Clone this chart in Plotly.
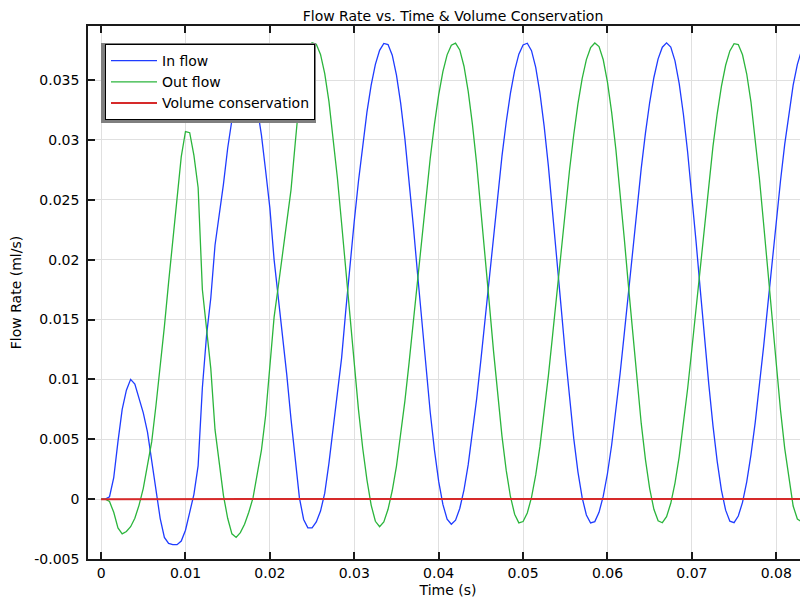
import plotly.graph_objects as go

# ---- data ----
time_step = 0.0005
time = [round(k * time_step, 4) for k in range(169)]  # sample times (s)

in_flow = [
    0, 0, 0.0002, 0.0018, 0.0048, 0.0075, 0.0091, 0.0100, 0.0096, 0.0085,
    0.0072, 0.0056, 0.0033, 0.0007, -0.0016, -0.0032, -0.0037, -0.0038, -0.0038, -0.0035,
    -0.0026, -0.0011, 0.0004, 0.0028, 0.0093, 0.0137, 0.0168, 0.0212, 0.0236, 0.0263,
    0.0293, 0.0318, 0.0340, 0.0356, 0.0362, 0.0358, 0.0345, 0.0327, 0.0304, 0.0274,
    0.0243, 0.0200, 0.0167, 0.0139, 0.0104, 0.0067, 0.0031, 0.0001, -0.0017, -0.0024,
    -0.0024, -0.0019, -0.0010, 0.0005, 0.0030, 0.0058, 0.0085, 0.0118, 0.0158, 0.01975,
    0.02324, 0.02657, 0.02962, 0.03232, 0.03457, 0.03631, 0.03748, 0.03805, 0.03796, 0.03707,
    0.03541, 0.03305, 0.03008, 0.02662, 0.02280, 0.01880, 0.01477, 0.01086, 0.00725, 0.00409,
    0.00148, -0.00044, -0.00168, -0.00210, -0.00176, -0.00078, 0.00078, 0.00288, 0.00543, 0.00837,
    0.01161, 0.01504, 0.01858, 0.02209, 0.02548, 0.02864, 0.03147, 0.03388, 0.03579, 0.03716,
    0.03793, 0.03807, 0.03745, 0.03605, 0.03391, 0.03113, 0.02781, 0.02410, 0.02015, 0.01610,
    0.01214, 0.00842, 0.00509, 0.00228, 0.00012, -0.00132, -0.00199, -0.00188, -0.00110, 0.00025,
    0.00214, 0.00454, 0.00735, 0.01050, 0.01388, 0.01739, 0.02093, 0.02437, 0.02762, 0.03056,
    0.03312, 0.03521, 0.03677, 0.03774, 0.03810, 0.03775, 0.03660, 0.03470, 0.03212, 0.02897,
    0.02537, 0.02148, 0.01745, 0.01344, 0.00962, 0.00614, 0.00315, 0.00076, -0.00092, -0.00184,
    -0.00196, -0.00141, -0.00027, 0.00145, 0.00369, 0.00637, 0.00942, 0.01273, 0.01622, 0.01975,
    0.02324, 0.02657, 0.02962, 0.03232, 0.03457, 0.03631, 0.03748, 0.03805, 0.03796,
]

out_flow = [
    0, 0, -0.0002, -0.0011, -0.0024, -0.0029, -0.0027, -0.0023, -0.0016, -0.0005,
    0.0009, 0.0027, 0.0048, 0.0078, 0.0110, 0.0144, 0.0181, 0.0218, 0.0254, 0.0286,
    0.0307, 0.0306, 0.0287, 0.0260, 0.0175, 0.0143, 0.0109, 0.0058, 0.0029, 0.0003,
    -0.0016, -0.0029, -0.0032, -0.0028, -0.0021, -0.0011, 0.0001, 0.0020, 0.0041, 0.0070,
    0.0109, 0.0152, 0.0178, 0.0205, 0.0228, 0.0258, 0.0297, 0.0335, 0.0362, 0.0377,
    0.0381, 0.03798, 0.03714, 0.03553, 0.03320, 0.03026, 0.02682, 0.02302, 0.01903, 0.01499,
    0.01107, 0.00745, 0.00425, 0.00161, -0.00050, -0.00185, -0.00230, -0.00190, -0.00085, 0.00072,
    0.00276, 0.00528, 0.00820, 0.01142, 0.01485, 0.01838, 0.02190, 0.02530, 0.02847, 0.03132,
    0.03376, 0.03570, 0.03710, 0.03790, 0.03808, 0.03751, 0.03615, 0.03405, 0.03130, 0.02801,
    0.02432, 0.02037, 0.01633, 0.01236, 0.00862, 0.00526, 0.00242, 0.00022, -0.00126, -0.00198,
    -0.00187, -0.00116, 0.00015, 0.00202, 0.00440, 0.00718, 0.01031, 0.01369, 0.01720, 0.02073,
    0.02418, 0.02744, 0.03041, 0.03300, 0.03511, 0.03670, 0.03770, 0.03809, 0.03779, 0.03669,
    0.03483, 0.03228, 0.02916, 0.02558, 0.02170, 0.01768, 0.01366, 0.00983, 0.00632, 0.00330,
    0.00088, -0.00085, -0.00181, -0.00197, -0.00146, -0.00035, 0.00134, 0.00355, 0.00621, 0.00924,
    0.01254, 0.01602, 0.01956, 0.02305, 0.02638, 0.02946, 0.03218, 0.03446, 0.03623, 0.03743,
    0.03803, 0.03796, 0.03711, 0.03550, 0.03318, 0.03024, 0.02680, 0.02300, 0.01902, 0.01498,
    0.01106, 0.00744, 0.00424, 0.00160, -0.00058, -0.00166, -0.00190, -0.00176, -0.00150,
]

vol_time = [0.0, 0.005, 0.01, 0.015, 0.02, 0.025, 0.03, 0.035, 0.04, 0.045,
            0.05, 0.055, 0.06, 0.065, 0.07, 0.075, 0.08, 0.084]
vol_cons = [0.0, 0.00001, -0.00001, 0.00001, 0.0, 0.00001, 0.00002, 0.00002, 0.00001, 0.00002,
            0.00002, 0.00001, 0.00002, 0.00002, 0.00001, 0.00002, 0.00002, 0.00001]

x_tick_vals = [0, 0.01, 0.02, 0.03, 0.04, 0.05, 0.06, 0.07, 0.08]
x_tick_text = ["0", "0.01", "0.02", "0.03", "0.04", "0.05", "0.06", "0.07", "0.08"]
y_tick_vals = [-0.005, 0, 0.005, 0.01, 0.015, 0.02, 0.025, 0.03, 0.035]
y_tick_text = ["-0.005", "0", "0.005", "0.01", "0.015", "0.02", "0.025", "0.03", "0.035"]

series_names = ["In flow", "Out flow", "Volume conservation"]

# ---- figure ----
# The page body keeps the browser's default 8px margin, so the figure is
# sized to fill the rest of the 808x601 window exactly.
FONT = "DejaVu Sans"
OFF = 8
W, H = 808 - OFF, 601 - OFF
ML, MT = 88 - OFF, 26 - OFF
MR, MB = 0, 601 - 559
pw, ph = W - ML - MR, H - MT - MB

def px_x(p):  # window pixel -> paper fraction
    return (p - OFF - ML) / pw

def px_y(p):
    return 1 - (p - OFF - MT) / ph

fig = go.Figure()
fig.add_trace(go.Scatter(x=time, y=in_flow, mode="lines", name=series_names[0],
                         line=dict(color="#1f3cff", width=1.3)))
fig.add_trace(go.Scatter(x=time, y=out_flow, mode="lines", name=series_names[1],
                         line=dict(color="#2bb53c", width=1.3)))
fig.add_trace(go.Scatter(x=vol_time, y=vol_cons, mode="lines", name=series_names[2],
                         line=dict(color="#d62a2a", width=2)))

axis_line = "#1a1a1a"
grid = "#e0e0e0"

fig.update_xaxes(
    range=[-0.00155, 0.08376], tickvals=x_tick_vals, ticktext=x_tick_text,
    ticks="inside", ticklen=7, tickwidth=1.5, tickcolor=axis_line,
    showline=True, linecolor=axis_line, linewidth=1.5, mirror="ticks",
    showgrid=True, gridcolor=grid, gridwidth=1, zeroline=False,
    tickfont=dict(family=FONT, size=14, color="black"),
    title=dict(text="Time (s)", font=dict(family=FONT, size=14, color="black"), standoff=6),
    automargin=False,
)
fig.update_yaxes(
    range=[-0.005, 0.03951], tickvals=y_tick_vals, ticktext=y_tick_text,
    ticks="inside", ticklen=7, tickwidth=1.5, tickcolor=axis_line,
    showline=True, linecolor=axis_line, linewidth=1.5, mirror=False,
    showgrid=True, gridcolor=grid, gridwidth=1, zeroline=False,
    tickfont=dict(family=FONT, size=14, color="black"), ticklabelstandoff=4,
    title=dict(text="Flow Rate (ml/s)", font=dict(family=FONT, size=14, color="black"), standoff=10),
    automargin=False,
)

# legend drop shadow
fig.add_shape(type="rect", xref="paper", yref="paper",
              x0=px_x(101), x1=px_x(316), y0=px_y(123), y1=px_y(43),
              fillcolor="#7f7f7f", line=dict(width=0), layer="above")

fig.update_layout(
    width=W, height=H,
    margin=dict(l=ML, r=MR, t=MT, b=MB, autoexpand=False),
    paper_bgcolor="white", plot_bgcolor="white",
    font=dict(family=FONT, size=14, color="black"),
    title=dict(text="Flow Rate vs. Time &amp; Volume Conservation", x=(453 - OFF) / W,
               xref="container", xanchor="center", y=1 - (16 - OFF) / H, yref="container",
               yanchor="middle", font=dict(family=FONT, size=14, color="black")),
    showlegend=True,
    legend=dict(x=px_x(105), y=px_y(44), xanchor="left", yanchor="top",
                bgcolor="white", bordercolor="black", borderwidth=1, itemwidth=46,
                font=dict(family=FONT, size=14, color="black")),
)

fig.write_html("out.html")
